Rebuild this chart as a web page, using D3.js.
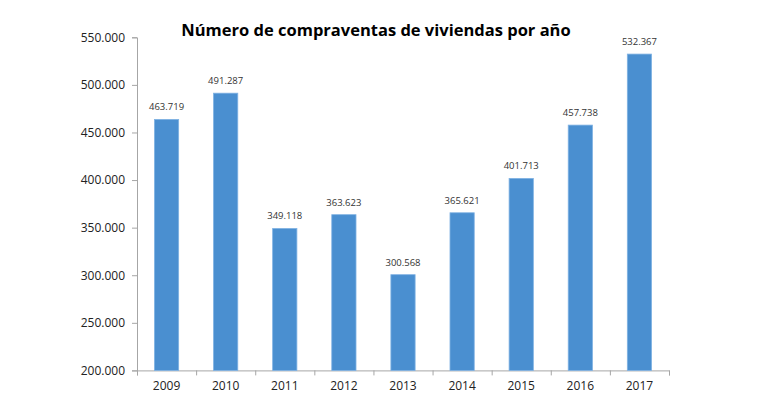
<!DOCTYPE html>
<html><head><meta charset="utf-8">
<script src="https://cdn.jsdelivr.net/npm/d3@7/dist/d3.min.js"></script>
<style>body{margin:0;background:#fff}svg{display:block}</style>
</head><body>
<svg id="c" width="770" height="399"></svg>
<script>
const years = ["2009","2010","2011","2012","2013","2014","2015","2016","2017"];
const sales = [463719,491287,349118,363623,300568,365621,401713,457738,532367];
const yTicks = [200000,250000,300000,350000,400000,450000,500000,550000];
const title = "Número de compraventas de viviendas por año";

(function(){
const svg = d3.select("#c");
const mLeft=137, mRight=669, mTop=37.3, mBottom=370.4;
const x = d3.scaleBand().domain(years).range([mLeft,mRight]).paddingInner(0.59).paddingOuter(0.295);
const y = d3.scaleLinear().domain([200000,550000]).range([mBottom,mTop]);
const fmt = v => d3.format(",.0f")(v).replace(/,/g,".");
const font = "'Open Sans', 'Liberation Sans', sans-serif";

svg.append("text").attr("x",376).attr("y",36).attr("text-anchor","middle")
  .attr("font-family",font).attr("font-weight","bold").attr("font-size",16.5).attr("fill","#000").text(title);

const ya = svg.append("g").attr("transform",`translate(${mLeft},0)`)
  .call(d3.axisLeft(y).tickValues(yTicks).tickFormat(fmt).tickSize(5).tickPadding(7));
ya.selectAll("path,line").attr("stroke","#a6a6a6");
ya.selectAll("text").attr("font-family",font).attr("font-size",12).attr("fill","#222");

const xb = d3.scaleLinear().domain([0,years.length]).range([mLeft,mRight]);
const xa = svg.append("g").attr("transform",`translate(0,${mBottom})`)
  .call(d3.axisBottom(xb).tickValues(d3.range(0,years.length+1)).tickFormat("").tickSize(5));
xa.selectAll("path,line").attr("stroke","#a6a6a6");
svg.append("g").selectAll("text").data(years).join("text")
  .attr("x",d=>x(d)+x.bandwidth()/2).attr("y",mBottom+20).attr("text-anchor","middle")
  .attr("font-family",font).attr("font-size",12).attr("fill","#222").text(d=>d);

svg.append("g").selectAll("rect").data(years).join("rect")
  .attr("x",d=>x(d)).attr("width",x.bandwidth())
  .attr("y",(d,i)=>y(sales[i])).attr("height",(d,i)=>mBottom-y(sales[i]))
  .attr("fill","#4a8fd0").attr("stroke","#7fb2e3").attr("stroke-width",0.8);

svg.append("g").selectAll("text").data(years).join("text")
  .attr("x",d=>x(d)+x.bandwidth()/2).attr("y",(d,i)=>y(sales[i])-9)
  .attr("text-anchor","middle").attr("font-family",font).attr("font-size",9.5).attr("fill","#333")
  .text((d,i)=>fmt(sales[i]));
})();
</script>
</body></html>
